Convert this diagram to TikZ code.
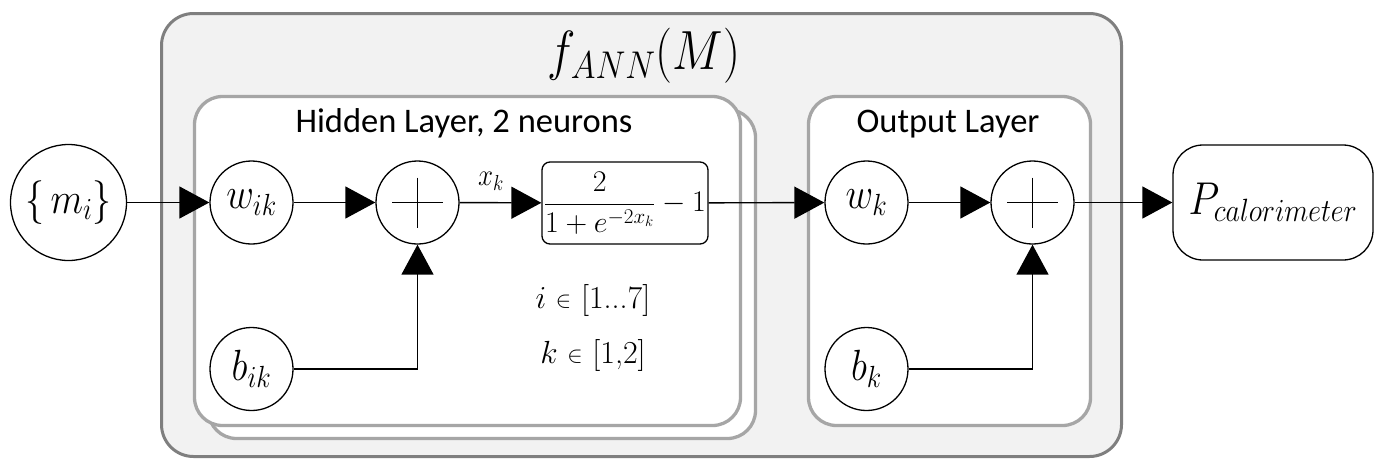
\RequirePackage{fix-cm}
\documentclass[tikz,border=0pt]{standalone}
\usepackage{graphicx}
\usepackage{fontspec}
\newfontfamily\calibri{Carlito}
\usetikzlibrary{arrows.meta}
\newcommand{\fs}[1]{\fontsize{#1}{#1}\selectfont}
\newcommand{\tallm}[1]{\scalebox{1}[1.15]{#1}}
\definecolor{outergray}{HTML}{7F7F7F}
\definecolor{outerfill}{HTML}{F2F2F2}
\definecolor{boxgray}{HTML}{A6A6A6}
\tikzset{
  neuron/.style={circle, draw, line width=1.3pt, fill=white, minimum size=83pt, inner sep=0pt, font=\fs{38}},
  conn/.style={line width=1.4pt, -{Triangle[length=30pt,width=32pt]}},
  wire/.style={line width=1.4pt},
  layerbox/.style={draw=boxgray, fill=white, line width=3.3pt, rounded corners=28pt},
  outerbox/.style={draw=outergray, fill=outerfill, line width=3pt, rounded corners=32pt},
  label/.style={font=\calibri\fs{34.5}, inner sep=0pt},
  rangetext/.style={inner sep=0pt, font=\fs{32}},
}
\begin{document}
\begin{tikzpicture}[x=1pt, y=-1pt]
\useasboundingbox (0,0) rectangle (1381,461);
% containers
\draw[outerbox] (161.5,13.5) rectangle (1121.5,456.5);
\draw[layerbox] (208.5,109.5) rectangle (755.5,438.5);
\draw[layerbox] (194.5,96.5) rectangle (740.5,425.5);
\draw[layerbox] (808.5,96.5) rectangle (1090.5,425.5);
% labels
\node[inner sep=0pt, font=\fs{48}] (title) at (644,56) {\tallm{$f_{ANN}(M)$}};
\node[label, anchor=base] (hl) at (464,132) {Hidden Layer, 2 neurons};
\node[label, anchor=base] (ol) at (948,132) {Output Layer};
% nodes
\node[neuron, minimum size=116pt] (m) at (68.5,202.5) {\tallm{$\{\,m_i\}$}};
\node[neuron] (wik) at (251.5,202.5) {\tallm{$w_{ik}$}};
\node[neuron] (p1) at (417.5,202.5) {};
\node[draw, line width=1.3pt, fill=white, rounded corners=8pt, minimum width=166pt, minimum height=82pt, inner sep=0pt, font=\fs{30}] (sig) at (625,203) {$\displaystyle\frac{2}{1+e^{-2x_k}}-1$};
\node[neuron] (wk) at (866.5,202.5) {\tallm{$w_k$}};
\node[neuron] (p2) at (1032.5,202.5) {};
\node[draw, line width=1.3pt, fill=white, rounded corners=30pt, minimum width=200pt, minimum height=115pt, inner sep=0pt, font=\fs{40}] (P) at (1273,202.5) {\tallm{$P_{calorimeter}$}};
\node[neuron] (bik) at (251.5,369) {\tallm{$b_{ik}$}};
\node[neuron] (bk) at (866.5,369) {\tallm{$b_k$}};
\node[inner sep=0pt, font=\fs{27}] (xk) at (491,181) {\tallm{$x_k$}};
\node[rangetext] (ir) at (593,300) {$i$ \raisebox{0.5pt}{\scalebox{0.72}{$\in$}} [1...7]};
\node[rangetext] (kr) at (593,355) {$k$ \raisebox{0.5pt}{\scalebox{0.72}{$\in$}} [1,2]};
% plus signs
\draw[wire] (p1.center) +(-25.5,0) -- +(25.5,0) (p1.center) +(0,-25) -- +(0,25);
\draw[wire] (p2.center) +(-25.5,0) -- +(25.5,0) (p2.center) +(0,-25) -- +(0,25);
% connectors
\draw[conn] (m) -- (wik);
\draw[conn] (wik) -- (p1);
\draw[conn] (p1) -- (sig);
\draw[conn] (sig) -- (wk);
\draw[conn] (wk) -- (p2);
\draw[conn] (p2) -- (P);
\draw[conn] (bik) -| (p1);
\draw[conn] (bk) -| (p2);
\end{tikzpicture}
\end{document}
